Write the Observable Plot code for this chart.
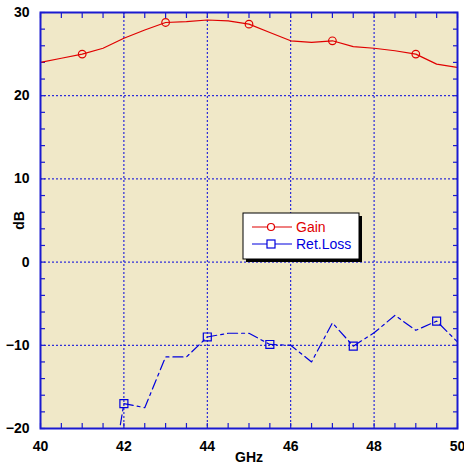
<!DOCTYPE html>
<html>
<head>
<meta charset="utf-8">
<script src="https://cdn.jsdelivr.net/npm/d3@7"></script>
<script src="https://cdn.jsdelivr.net/npm/@observablehq/plot@0.6"></script>
<style>
html,body{margin:0;padding:0;background:#fff;}
#chart{position:relative;width:464px;height:463px;}
</style>
</head>
<body>
<div id="chart"></div>
<script>
// Gain (dB) vs frequency (GHz)
const gainFreq = [40, 40.5, 41, 41.5, 42, 42.5, 43, 43.5, 44, 44.5, 45, 45.5, 46, 46.5, 47, 47.5, 48, 48.5, 49, 49.5, 50];
const gainDb   = [24.0, 24.5, 25.0, 25.7, 26.9, 27.9, 28.8, 28.9, 29.1, 29.0, 28.6, 27.6, 26.6, 26.4, 26.6, 25.9, 25.7, 25.4, 25.0, 23.8, 23.4];
const gainMarkFreq = [41, 43, 45, 47, 49];
const gainMarkDb   = [25.0, 28.8, 28.6, 26.6, 25.0];

// Return loss (dB) vs frequency (GHz)
const rlFreq = [41.5, 42, 42.5, 43, 43.5, 44, 44.5, 45, 45.5, 46, 46.5, 47, 47.5, 48, 48.5, 49, 49.5, 50];
const rlDb   = [-32, -17.0, -17.5, -11.4, -11.4, -9.0, -8.55, -8.55, -9.9, -10.0, -12.0, -7.3, -10.1, -8.5, -6.4, -8.2, -7.1, -9.6];
const rlMarkFreq = [42, 44, 45.5, 47.5, 49.5];
const rlMarkDb   = [-17.0, -9.0, -9.9, -10.1, -7.1];

const xMajor = [40, 42, 44, 46, 48, 50];
const yMajor = [-20, -10, 0, 10, 20, 30];
const xGrid = [42, 44, 46, 48];
const yGrid = [-10, 0, 10, 20];
const xMinor = d3.range(40, 50.001, 0.5);
const yMinor = d3.range(-20, 30.001, 2);

const legendItems = ["Gain", "Ret.Loss"];

const gain = gainFreq.map((f, i) => ({f, v: gainDb[i]}));
const gainMarks = gainMarkFreq.map((f, i) => ({f, v: gainMarkDb[i]}));
const rl = rlFreq.map((f, i) => ({f, v: rlDb[i]}));
const rlMarks = rlMarkFreq.map((f, i) => ({f, v: rlMarkDb[i]}));

const RED = "#e00000";
const BLUE = "#0000dd";
const FRAME = "#1a1ad0";

const plot = Plot.plot({
  width: 464,
  height: 463,
  marginLeft: 40,
  marginRight: 7,
  marginTop: 12,
  marginBottom: 35,
  style: {fontFamily: "'Liberation Sans', Arial, sans-serif", fontSize: "14px", fontWeight: "bold", background: "#fff", color: "#000"},
  x: {domain: [40, 50]},
  y: {domain: [-20, 30]},
  marks: [
    Plot.frame({fill: "#f0e8c8", stroke: null}),
    Plot.gridX(xGrid, {stroke: BLUE, strokeOpacity: 1, strokeDasharray: "2,2", strokeWidth: 1}),
    Plot.gridY(yGrid, {stroke: BLUE, strokeOpacity: 1, strokeDasharray: "2,2", strokeWidth: 1}),
    // minor inward ticks on all sides
    Plot.axisX(xMinor, {anchor: "bottom", tickSize: -5, text: null, stroke: FRAME, strokeWidth: 1.2, label: null}),
    Plot.axisX(xMinor, {anchor: "top", tickSize: -5, text: null, stroke: FRAME, strokeWidth: 1.2, label: null}),
    Plot.axisY(yMinor, {anchor: "left", tickSize: -5, text: null, stroke: FRAME, strokeWidth: 1.2, label: null}),
    Plot.axisY(yMinor, {anchor: "right", tickSize: -5, text: null, stroke: FRAME, strokeWidth: 1.2, label: null}),
    // labels
    Plot.axisX(xMajor, {anchor: "bottom", tickSize: 0, tickPadding: 13, label: "GHz", labelAnchor: "center", labelArrow: "none", labelOffset: 33, fontWeight: "bold"}),
    Plot.axisY(yMajor, {anchor: "left", tickSize: 0, tickPadding: 11, label: "dB", labelAnchor: "center", labelArrow: "none", labelOffset: 26, fontWeight: "bold"}),
    // data
    Plot.line(gain, {x: "f", y: "v", stroke: RED, strokeWidth: 1.2, clip: true}),
    Plot.dot(gainMarks, {x: "f", y: "v", r: 3.8, stroke: RED, strokeWidth: 1.2, fill: "none"}),
    Plot.line(rl, {x: "f", y: "v", stroke: BLUE, strokeWidth: 1.2, strokeDasharray: "10,4,3,4", clip: true}),
    Plot.dot(rlMarks, {x: "f", y: "v", r: 4.5, symbol: "square", stroke: BLUE, strokeWidth: 1.2, fill: "none"}),
    Plot.frame({stroke: FRAME, strokeWidth: 2})
  ]
});

document.getElementById("chart").appendChild(plot);

// Legend (inside plot area, drawn in SVG)
const svg = d3.select(plot);
const lg = svg.append("g").attr("transform", "translate(243,213)").attr("text-anchor", "start");
lg.append("rect").attr("x", 3).attr("y", 3).attr("width", 116).attr("height", 46).attr("fill", "#000");
lg.append("rect").attr("x", 0).attr("y", 0).attr("width", 116).attr("height", 46).attr("fill", "#fff").attr("stroke", "#000").attr("stroke-width", 1);
const colors = [RED, BLUE];
legendItems.forEach((name, i) => {
  const yy = 14 + i * 17;
  const g = lg.append("g");
  g.append("line").attr("x1", 9).attr("x2", 49).attr("y1", yy).attr("y2", yy).attr("stroke", colors[i]).attr("stroke-width", 1.2);
  if (i === 0) {
    g.append("circle").attr("cx", 28).attr("cy", yy).attr("r", 3.5).attr("fill", "#fff").attr("stroke", colors[i]).attr("stroke-width", 1.2);
  } else {
    g.append("rect").attr("x", 24).attr("y", yy - 4).attr("width", 8).attr("height", 8).attr("fill", "#fff").attr("stroke", colors[i]).attr("stroke-width", 1.2);
  }
  g.append("text").attr("x", 53).attr("y", yy).attr("dy", "0.36em").attr("fill", colors[i]).attr("text-anchor", "start")
    .style("font-weight", "normal").style("font-size", "14px").text(name);
});
</script>
</body>
</html>
